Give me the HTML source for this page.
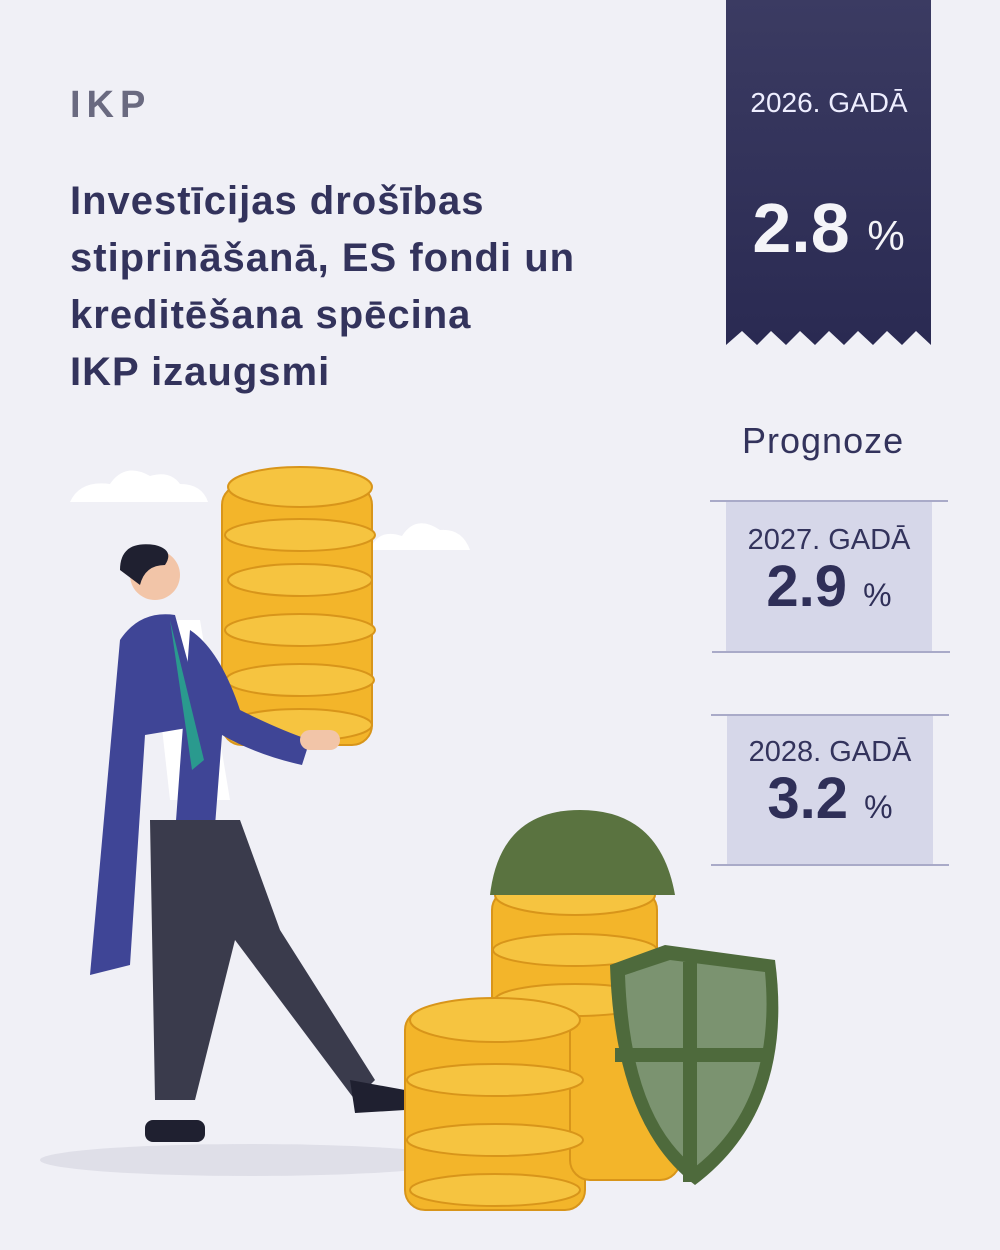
<!DOCTYPE html>
<html><head><meta charset="utf-8"><style>
body{margin:0;width:1000px;height:1250px;background:#f0f0f6;position:relative;overflow:hidden;font-family:"Liberation Sans","DejaVu Sans",sans-serif;color:#2f2f58}
.a{position:absolute}
.ikp{left:70px;top:84px;font-size:38px;font-weight:bold;letter-spacing:6px;color:#6a6a80}
.t{left:70px;top:173px;font-size:40px;font-weight:bold;line-height:57px;letter-spacing:1px;color:#33335c}
.box{background:#d6d7e9;width:206px;text-align:center}
.yr{font-size:29px;color:#33335c}
.big{font-size:58px;font-weight:bold;color:#2f2f58}
.pc{font-size:32px;font-weight:normal}
.ln{height:2px;background:#a9aac8}
</style></head><body>
<div class="a ikp">IKP</div>
<div class="a t">Investīcijas drošības<br>stiprināšanā, ES fondi un<br>kreditēšana spēcina<br>IKP izaugsmi</div>
<svg class="a" style="left:726px;top:0" width="206" height="346">
<defs><linearGradient id="g" x1="0" y1="0" x2="0" y2="1"><stop offset="0" stop-color="#3b3b62"/><stop offset="1" stop-color="#2a2a52"/></linearGradient></defs>
<path d="M0 0H205V345L190 331L176 345L161 331L147 345L132 331L118 345L103 331L89 345L74 331L60 345L45 331L31 345L16 331L0 345Z" fill="url(#g)"/>
<text x="103" y="112" fill="#eef" font-size="28" text-anchor="middle" font-family="Liberation Sans,sans-serif">2026. GADĀ</text>
<text x="75" y="252" fill="#f4f4f8" font-size="70" font-weight="bold" text-anchor="middle" font-family="Liberation Sans,sans-serif">2.8</text>
<text x="160" y="250" fill="#f4f4f8" font-size="42" text-anchor="middle" font-family="Liberation Sans,sans-serif">%</text>
</svg>
<div class="a" style="left:742px;top:420px;font-size:36px;letter-spacing:1px;color:#33335c">Prognoze</div>
<div class="a ln" style="left:710px;top:500px;width:238px"></div>
<div class="a box" style="left:726px;top:502px;height:149px"><div class="yr" style="margin-top:22px">2027. GADĀ</div><div class="big" style="margin-top:-4px">2.9 <span class="pc">%</span></div></div>
<div class="a ln" style="left:712px;top:651px;width:238px"></div>
<div class="a ln" style="left:711px;top:714px;width:238px"></div>
<div class="a box" style="left:727px;top:716px;height:149px"><div class="yr" style="margin-top:20px">2028. GADĀ</div><div class="big" style="margin-top:-4px">3.2 <span class="pc">%</span></div></div>
<div class="a ln" style="left:711px;top:864px;width:238px"></div>
<svg class="a" style="left:0;top:440px" width="1000" height="810">
<ellipse cx="250" cy="720" rx="210" ry="16" fill="#dfdfe8"/>
<path d="M70 62q10-22 40-18q15-22 40-8q20-6 30 8q22 0 28 18z" fill="#fff"/>
<path d="M370 110q8-22 32-14q14-22 38-6q22-2 30 20z" fill="#fff"/>
<g fill="#f3b52a" stroke="#d8951a" stroke-width="2">
<rect x="222" y="45" width="150" height="260" rx="20"/>
</g>
<g fill="#f6c440" stroke="#d8951a" stroke-width="2">
<ellipse cx="300" cy="47" rx="72" ry="20"/>
<ellipse cx="300" cy="95" rx="75" ry="16"/><ellipse cx="300" cy="140" rx="72" ry="16"/>
<ellipse cx="300" cy="190" rx="75" ry="16"/><ellipse cx="300" cy="240" rx="74" ry="16"/>
<ellipse cx="300" cy="285" rx="72" ry="16"/>
</g>
<path d="M150 180h50l30 180h-60z" fill="#fff"/>
<path d="M120 200q20-30 55-25l30 110l-60 10l-15 230l-40 10z" fill="#3f4596"/>
<path d="M190 190q30 20 50 80q40 20 70 30l-8 25q-45-10-80-30l-10 130l-40 10z" fill="#3f4596"/>
<path d="M150 380h90l40 110l95 150l-20 20l-120-160l-40 160h-40z" fill="#3a3b4c"/>
<rect x="145" y="680" width="60" height="22" rx="8" fill="#1f2030"/>
<path d="M350 640l55 10v20l-50 3z" fill="#1f2030"/>
<circle cx="155" cy="135" r="25" fill="#f2c5a8"/>
<path d="M120 130q0-30 35-25q20 5 10 20q-20 0-25 20z" fill="#1f2030"/>
<rect x="300" y="290" width="40" height="20" rx="10" fill="#f2c5a8"/>
<path d="M170 180l22 150l12-10z" fill="#2a9a8e"/>
<g fill="#f3b52a" stroke="#d8951a" stroke-width="2">
<rect x="492" y="450" width="165" height="240" rx="20"/>
<rect x="405" y="570" width="180" height="200" rx="20"/>
<rect x="570" y="570" width="110" height="170" rx="20"/>
</g>
<g fill="#f6c440" stroke="#d8951a" stroke-width="2">
<ellipse cx="575" cy="455" rx="80" ry="20"/><ellipse cx="575" cy="510" rx="82" ry="16"/><ellipse cx="575" cy="560" rx="80" ry="16"/>
<ellipse cx="495" cy="580" rx="85" ry="22"/><ellipse cx="495" cy="640" rx="88" ry="16"/><ellipse cx="495" cy="700" rx="88" ry="16"/><ellipse cx="495" cy="750" rx="85" ry="16"/>
</g>
<path d="M490 455q10-85 90-85q80 0 95 85z" fill="#5a7340"/>
<path d="M610 525l55-20l110 15q20 150-80 225q-80-60-85-220z" fill="#4e6a3c"/>
<path d="M625 535l45-15l95 12q12 130-70 195q-65-50-70-192z" fill="#7b9370"/>
<path d="M690 522v220M615 615h158" stroke="#4e6a3c" stroke-width="14"/>
</svg>
</body></html>
